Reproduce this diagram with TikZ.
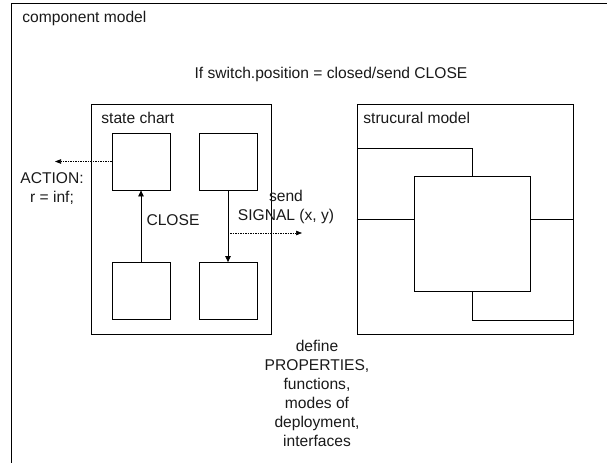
\documentclass[tikz,border=0pt]{standalone}
\usepackage{fontspec}
\setmainfont{Liberation Sans}
\usetikzlibrary{arrows.meta}
\begin{document}
\begin{tikzpicture}[x=1pt,y=-1pt,
  line width=0.8pt,
  txt/.style={inner sep=0pt,font=\fontsize{15.6}{19}\selectfont,text=black!90},
  mtxt/.style={txt,align=center},
  boxn/.style={draw,rectangle,inner sep=0pt,minimum width=#1},
  sbox/.style={draw,rectangle,inner sep=0pt,minimum width=58pt,minimum height=57pt},
  arr/.style={-{Triangle[length=6pt,width=5.5pt]}},
  darr/.style={-{Triangle[length=6pt,width=4.5pt]},line width=0.6pt,dash pattern=on 1.5pt off 1pt}]
\useasboundingbox (0,0) rectangle (607,463);
% outer frame
\coordinate (otr) at (607,3.5);
\coordinate (otl) at (11.5,3.5);
\coordinate (obl) at (11.5,463);
\draw (otr) -- (otl) -- (obl);
\node[txt,anchor=west] (cm) at (22,18) {component model};
\node[txt] (cond) at (331,74) {If switch.position = closed/send CLOSE};
% state chart
\node[draw,rectangle,inner sep=0pt,minimum width=180pt,minimum height=230pt] (sc) at (181,219) {};
\node[txt,anchor=west] (sct) at (101,118) {state chart};
\node[sbox] (a) at (141,161.5) {};
\node[sbox] (b) at (228,161.5) {};
\node[sbox] (c) at (141,291) {};
\node[sbox] (d) at (228,291) {};
\draw[arr] (c.north) -- (a.south);
\draw[arr] (b.south) -- (d.north);
\node[txt] (close) at (173,220) {CLOSE};
\coordinate (actend) at (55,161.5);
\draw[darr] (a.west) -- (actend);
\node[mtxt] (action) at (52,189) {ACTION:\\r = inf;};
\coordinate (sigs) at (230,233);
\coordinate (sige) at (302,233);
\draw[darr] (sigs) -- (sige);
\node[mtxt] (signal) at (286,207) {send\\SIGNAL (x, y)};
% structural model
\node[draw,rectangle,inner sep=0pt,minimum width=216pt,minimum height=230pt] (sm) at (465,219) {};
\node[txt,anchor=west] (smt) at (363,118) {strucural model};
\node[draw,rectangle,inner sep=0pt,minimum width=116pt,minimum height=115pt] (in) at (472,233.5) {};
\coordinate (tl) at (357,148);
\coordinate (br) at (573,320);
\draw (tl) -| (in.north);
\draw (sm.west) -- (sm.west -| in.west);
\draw (in.east |- sm.east) -- (sm.east);
\draw (in.south) |- (br);
% bottom text
\node[mtxt] (props) at (317,393) {define\\PROPERTIES,\\functions,\\modes of\\deployment,\\interfaces};
\end{tikzpicture}
\end{document}
